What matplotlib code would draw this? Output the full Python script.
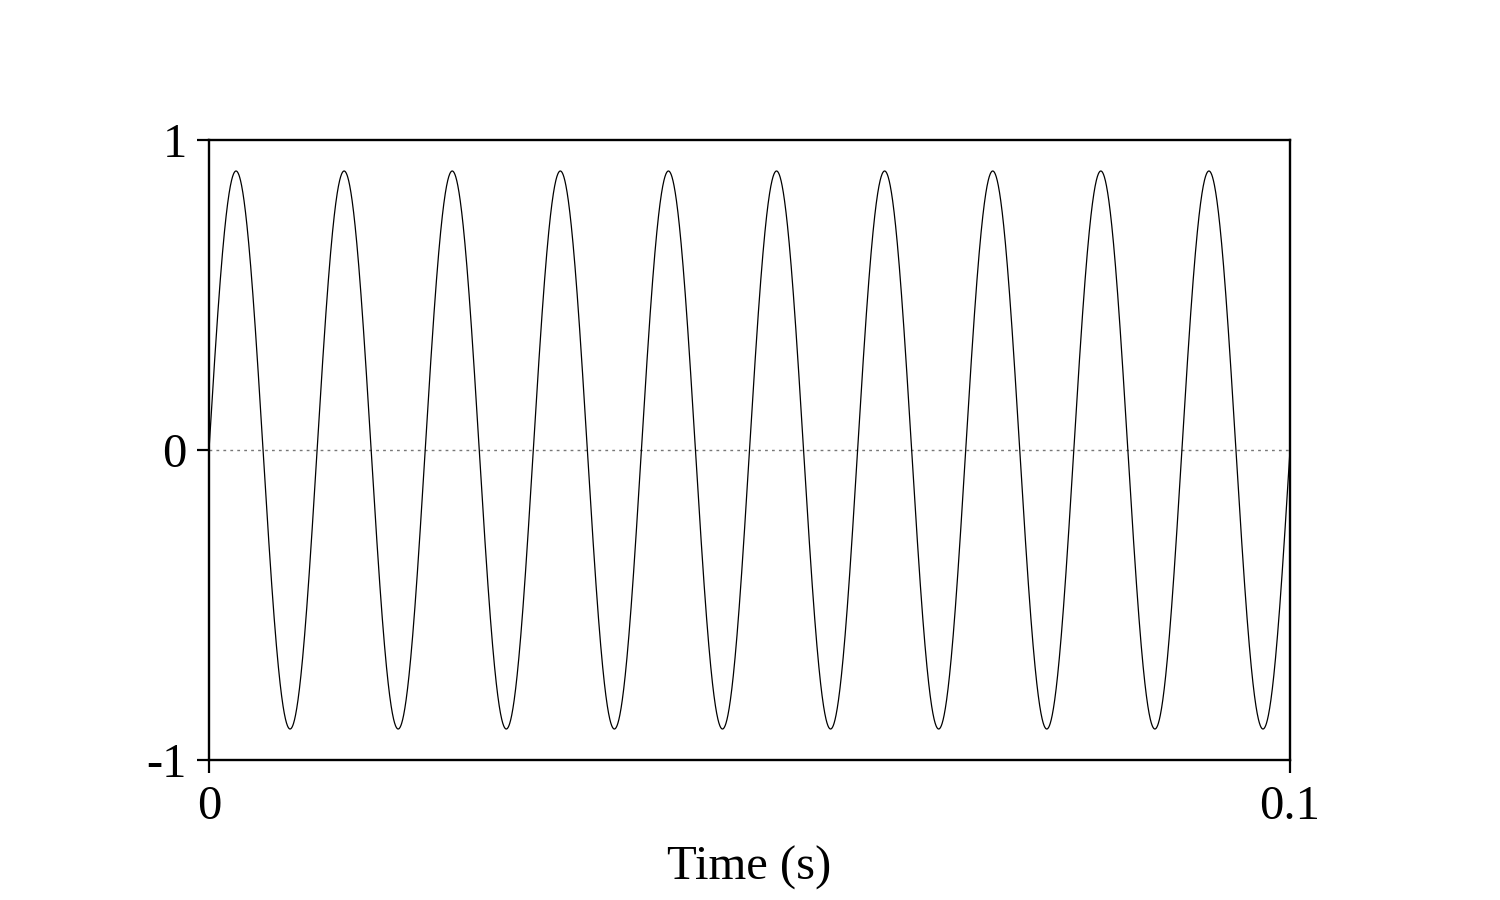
import matplotlib
matplotlib.use("Agg")
import matplotlib.pyplot as plt
import numpy as np

# signal parameters
amplitude = 0.9
frequency = 100.0   # Hz, 10 cycles in 0.1 s
duration = 0.1      # s
sample_rate = 44100

x_ticks = [0, 0.1]
x_tick_labels = ["0", "0.1"]
y_ticks = [-1, 0, 1]
y_tick_labels = ["-1", "0", "1"]

t = np.arange(0, duration + 1 / sample_rate, 1 / sample_rate)
signal = amplitude * np.sin(2 * np.pi * frequency * t)

plt.rcParams['font.family'] = ['Liberation Serif', 'DejaVu Serif']
plt.rcParams['axes.unicode_minus'] = False

fig = plt.figure(figsize=(15, 9), dpi=100)
ax = fig.add_axes([209 / 1500, 1 - 760 / 900, (1290 - 209) / 1500, (760 - 140) / 900])

# zero line
ax.axhline(0, color='#777777', linestyle=(0, (2, 3)), linewidth=1.0)
ax.plot(t, signal, color='black', linewidth=0.9)

ax.set_xlim(0, duration)
ax.set_ylim(-1, 1)
ax.set_xticks(x_ticks)
ax.set_xticklabels(x_tick_labels)
ax.set_yticks(y_ticks)
ax.set_yticklabels(y_tick_labels)
ax.tick_params(direction='out', length=9, width=1.6, labelsize=35)
ax.tick_params(axis='x', pad=9)
ax.tick_params(axis='y', pad=7)
for s in ax.spines.values():
    s.set_linewidth(1.7)

ax.set_xlabel("Time (s)", fontsize=35, labelpad=12)

fig.savefig("out.png", dpi=100)
